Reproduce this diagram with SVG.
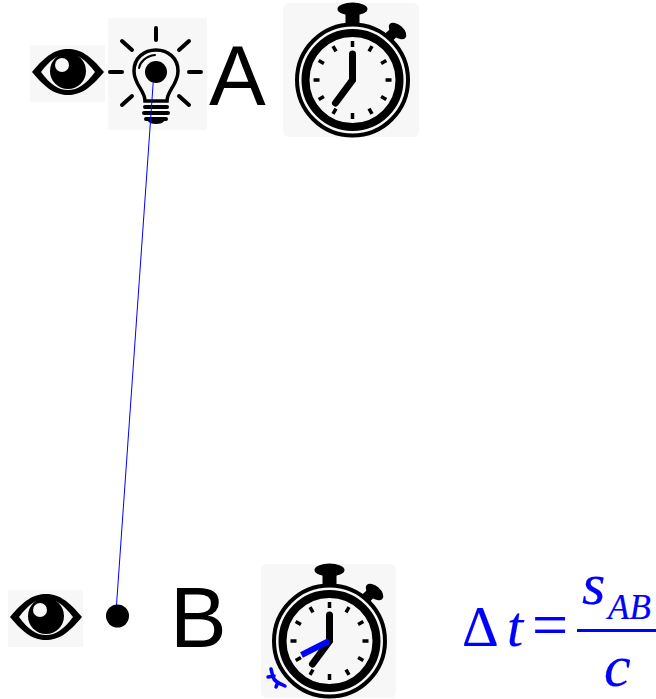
<svg xmlns="http://www.w3.org/2000/svg" width="656" height="699" viewBox="0 0 656 699">
<style>
.bg{fill:#f7f7f7}
.ink{fill:#000}
.big{font-family:"Liberation Sans",Arial,sans-serif;font-size:85px;fill:#000}
.m{font-family:"Liberation Serif","Times New Roman",serif;fill:#00f;stroke:#00f;stroke-width:.2;font-style:italic}
.up{font-style:normal}
.ray{stroke:#000;stroke-width:4;stroke-linecap:round;fill:none}
.tick{stroke:#000;stroke-width:3.500;fill:none}
</style>
<defs>
<g id="eye">
<path d="M-36,0 C-22,-17 -12,-23 0,-23 C12,-23 22,-17 36,0 C22,17 12,23 0,23 C-12,23 -22,17 -36,0 Z M-27,0 C-18,12 -10,18 0,18 C10,18 18,12 27,0 C18,-12 10,-18 0,-18 C-10,-18 -18,-12 -27,0 Z" fill-rule="evenodd" class="ink"/>
<circle cx="0" cy="-1" r="18" class="ink"/>
<circle cx="-6" cy="-7" r="7" fill="#f7f7f7"/>
</g>
<g id="clock">
<rect x="-7" y="-68" width="14" height="16" class="ink"/>
<ellipse cx="0" cy="-71" rx="15" ry="6.500" class="ink"/>
<path d="M31,-45 L41,-54 L48,-47 L39,-38 Z" class="ink"/>
<ellipse cx="45" cy="-49" rx="10.500" ry="6" transform="rotate(42 45 -49)" class="ink"/>
<circle r="55.500" fill="#f7f7f7" stroke="#000" stroke-width="4"/>
<circle r="47" fill="#f7f7f7" stroke="#000" stroke-width="8"/>
<g class="tick">
<path d="M0,-39V-33M0,39V33M-39,0H-33M39,0H33M19.500,-33.800L16.500,-28.600M-19.500,-33.800L-16.500,-28.600M19.500,33.800L16.500,28.600M-19.500,33.800L-16.500,28.600M33.800,-19.500L28.600,-16.500M-33.800,-19.500L-28.600,-16.500M33.800,19.500L28.600,16.500M-33.800,19.500L-28.600,16.500"/>
</g>
<path d="M0,-26V0L-17,23" fill="none" stroke="#000" stroke-width="7" stroke-linecap="round" stroke-linejoin="miter"/>
</g>
</defs>
<g id="eye-a">
<rect x="30" y="45" width="75" height="57" class="bg"/>
<use href="#eye" x="68" y="72"/>
</g>
<g id="lamp-a">
<rect x="108" y="18" width="99" height="112" class="bg"/>
<g class="ray">
<path d="M156,28V40M110,72H122M189,72H201M122,41L132,50M189,41L179,50M122,105L132,96M189,105L179,96"/>
<path d="M145,101 C145,90 134,85 134,71 C134,58 144,50 156,50 C168,50 178,58 178,71 C178,85 167,90 167,101 Z" stroke-width="3.500"/>
<path d="M139,68 C140,62 146,56 155,55" stroke-width="2"/>
<path d="M145,107H167M144,113H168M146,119H166" stroke-width="4"/>
</g>
<path d="M147,120H165C163,123 160,124 156,124C152,124 149,123 147,120Z" class="ink"/>
<circle cx="156" cy="72" r="11" class="ink"/>
</g>
<g id="label-a"><text x="209" y="105" class="big">A</text></g>
<g id="clock-a">
<rect x="283" y="3" width="136" height="134" rx="6" class="bg"/>
<use href="#clock" x="352.500" y="80"/>
</g>
<g id="eye-b">
<rect x="8" y="590" width="75" height="57" class="bg"/>
<use href="#eye" x="46" y="617"/>
</g>
<g id="point-b"><circle cx="117.500" cy="616" r="11.500" class="ink"/></g>
<g id="label-b"><text x="170" y="647" class="big">B</text></g>
<g id="clock-b">
<rect x="261" y="564" width="135" height="134" rx="6" class="bg"/>
<use href="#clock" x="329.500" y="641"/>
<line x1="329" y1="641" x2="301.500" y2="655" stroke="#00f" stroke-width="6"/>
<path d="M271,669 L273,677 C274,681 278,683 285,686 M268,677 L274,676 M278,682 L276,687" fill="none" stroke="#00f" stroke-width="3.500" stroke-linecap="round"/>
</g>
<g id="formula">
<text x="462" y="646" class="m up" font-size="57">Δ</text>
<text x="507" y="646" class="m" font-size="58">t</text>
<text x="532" y="646" class="m up" font-size="64">=</text>
<text x="582" y="604" class="m" font-size="60">s</text>
<text x="608" y="619" class="m" font-size="35">AB</text>
<rect x="577" y="629" width="79" height="3" fill="#00f"/>
<text x="604" y="686" class="m" font-size="60">c</text>
</g>
<g id="connectors">
<line x1="153.200" y1="82.500" x2="116.500" y2="605" stroke="#00f" stroke-width="1"/>
</g>
</svg>
